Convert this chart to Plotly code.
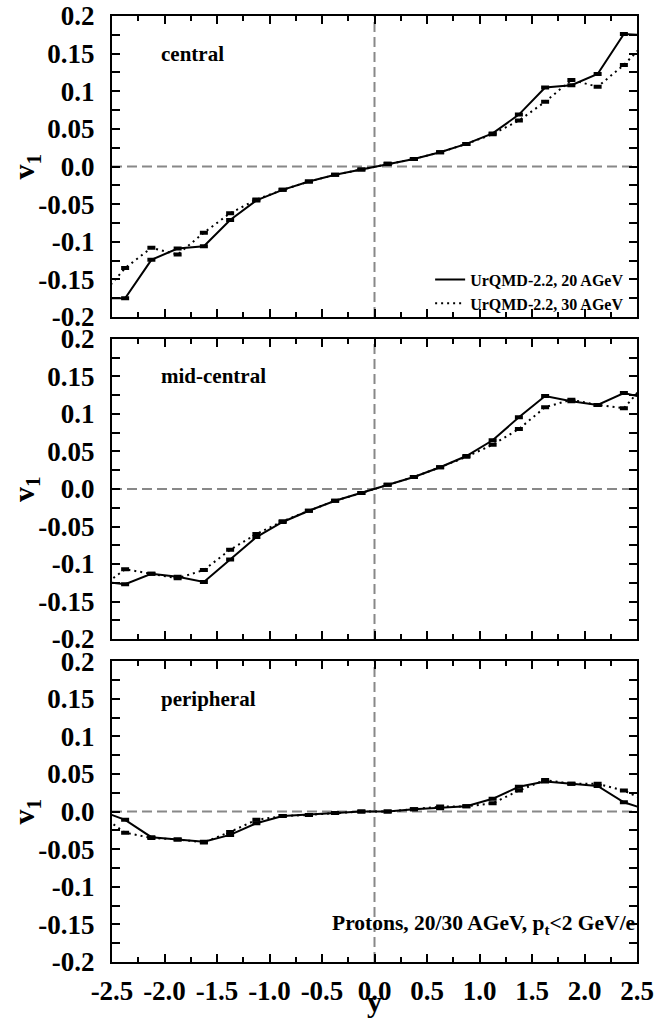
import plotly.graph_objects as go

# rapidity bin centres (outer points lie outside the shown range; lines are clipped)
rapidity = [-2.625, -2.375, -2.125, -1.875, -1.625, -1.375, -1.125, -0.875, -0.625, -0.375, -0.125,
            0.125, 0.375, 0.625, 0.875, 1.125, 1.375, 1.625, 1.875, 2.125, 2.375, 2.625]

central_20 = [-0.175, -0.175, -0.124, -0.109, -0.106, -0.071, -0.045, -0.031, -0.020, -0.011, -0.004,
              0.0035, 0.010, 0.019, 0.030, 0.044, 0.069, 0.105, 0.108, 0.123, 0.176, 0.174]
central_30 = [-0.175, -0.135, -0.108, -0.117, -0.088, -0.062, -0.044, -0.031, -0.020, -0.011, -0.004,
              0.0035, 0.010, 0.019, 0.030, 0.043, 0.061, 0.086, 0.115, 0.106, 0.135, 0.171]

midcentral_20 = [-0.123, -0.127, -0.113, -0.117, -0.124, -0.094, -0.064, -0.044, -0.029, -0.0156, -0.0053,
                 0.0058, 0.016, 0.029, 0.044, 0.065, 0.0956, 0.124, 0.117, 0.112, 0.128, 0.120]
midcentral_30 = [-0.133, -0.107, -0.113, -0.119, -0.108, -0.081, -0.060, -0.043, -0.029, -0.0156, -0.0053,
                 0.0058, 0.016, 0.029, 0.043, 0.059, 0.080, 0.109, 0.119, 0.112, 0.1076, 0.148]

peripheral_20 = [0.002, -0.011, -0.034, -0.037, -0.040, -0.031, -0.0155, -0.006, -0.0044, -0.002, 0.0,
                 0.0, 0.003, 0.0045, 0.007, 0.017, 0.033, 0.040, 0.037, 0.034, 0.0124, 0.001]
peripheral_30 = [-0.003, -0.028, -0.035, -0.037, -0.041, -0.027, -0.011, -0.006, -0.0044, -0.002, 0.0,
                 0.0, 0.003, 0.0066, 0.007, 0.011, 0.028, 0.042, 0.037, 0.037, 0.028, 0.012]

stat_err = [0.0, 0.001, 0.001, 0.001, 0.001, 0.001, 0.001, 0.001, 0.001, 0.001, 0.001,
            0.001, 0.001, 0.001, 0.001, 0.001, 0.001, 0.001, 0.001, 0.001, 0.001, 0.0]

panel_names = ["central", "mid-central", "peripheral"]
series_names = ["UrQMD-2.2, 20 AGeV", "UrQMD-2.2, 30 AGeV"]

y_tickvals = [0.2, 0.15, 0.1, 0.05, 0.0, -0.05, -0.1, -0.15, -0.2]
y_ticktext = ["0.2", "0.15", "0.1", "0.05", "0.0", "-0.05", "-0.1", "-0.15", "-0.2"]
x_tickvals = [-2.5, -2.0, -1.5, -1.0, -0.5, 0.0, 0.5, 1.0, 1.5, 2.0, 2.5]
x_ticktext = ["-2.5", "-2.0", "-1.5", "-1.0", "-0.5", "0.0", "0.5", "1.0", "1.5", "2.0", "2.5"]

FONT = "Liberation Serif"
panels = [(central_20, central_30), (midcentral_20, midcentral_30), (peripheral_20, peripheral_30)]
domains = [[0.6818, 1.0], [0.3414, 0.6586], [0.0, 0.318]]

fig = go.Figure()
for i, (s20, s30) in enumerate(panels):
    ax = "" if i == 0 else str(i + 1)
    for j, (vals, dash) in enumerate([(s20, "solid"), (s30, "2px,4px")]):
        fig.add_trace(go.Scatter(
            x=rapidity, y=vals, mode="lines", name=series_names[j],
            showlegend=(i == 0),
            line=dict(color="black", width=2, dash=dash),
            error_y=dict(type="data", array=stat_err, width=4, thickness=2.5, color="black"),
            xaxis="x" + ax, yaxis="y" + ax,
        ))

layout = dict(
    width=670, height=1023,
    margin=dict(l=112, r=33, t=16, b=61),
    paper_bgcolor="white", plot_bgcolor="white",
    font=dict(family=FONT, color="black", weight="bold"),
    legend=dict(x=0.985, xanchor="right", y=0.678, yanchor="bottom",
                font=dict(size=16, family=FONT, weight="bold"),
                bgcolor="rgba(0,0,0,0)", tracegroupgap=0, itemwidth=30),
    shapes=[], annotations=[],
)

for i in range(3):
    ax = "" if i == 0 else str(i + 1)
    xk = "xaxis" + ax
    yk = "yaxis" + ax
    layout[xk] = dict(
        domain=[0, 1], anchor="y" + ax, range=[-2.5, 2.5], automargin=False,
        tickmode="array", tickvals=x_tickvals, ticktext=x_ticktext,
        showticklabels=(i == 2), ticks="inside", ticklen=8, tickwidth=1.5, tickcolor="black",
        minor=dict(tickmode="linear", tick0=0, dtick=0.25, ticks="inside", ticklen=5, tickwidth=1.5,
                   tickcolor="black"),
        showline=True, linecolor="black", linewidth=2, mirror="allticks",
        showgrid=False, zeroline=False,
        tickfont=dict(size=27, family=FONT, weight="bold"),
        ticklabelstandoff=4,
    )
    layout[yk] = dict(
        domain=domains[i], anchor="x" + ax, range=[-0.2, 0.2], automargin=False,
        tickmode="array", tickvals=y_tickvals, ticktext=y_ticktext,
        ticks="inside", ticklen=8, tickwidth=1.5, tickcolor="black",
        minor=dict(tickmode="linear", tick0=0, dtick=0.025, ticks="inside", ticklen=8, tickwidth=1.5,
                   tickcolor="black"),
        showline=True, linecolor="black", linewidth=2, mirror="allticks",
        showgrid=False, zeroline=False,
        tickfont=dict(size=27, family=FONT, weight="bold"),
        ticklabelstandoff=10,
    )
    # y-axis title (v1) for this panel
    layout["annotations"].append(dict(text="v<sub>1</sub>", x=0, xref="paper", xanchor="center", xshift=-86,
                                      y=0, yref="y" + ax, yanchor="middle", textangle=-90, showarrow=False,
                                      font=dict(size=30, family=FONT, weight="bold")))
    # dashed reference lines at v1 = 0 and y = 0
    layout["shapes"].append(dict(type="line", xref="x" + ax + " domain", yref="y" + ax,
                                 x0=0, x1=1, y0=0, y1=0,
                                 line=dict(color="#888888", width=2, dash="10px,5px"), layer="below"))
    layout["shapes"].append(dict(type="line", xref="x" + ax, yref="y" + ax + " domain",
                                 x0=0, x1=0, y0=0, y1=1,
                                 line=dict(color="#888888", width=2, dash="10px,5px"), layer="below"))
    layout["annotations"].append(dict(text=panel_names[i], x=-2.05, y=0.15, xref="x" + ax, yref="y" + ax,
                                      xanchor="left", yanchor="middle", showarrow=False,
                                      font=dict(size=21, family=FONT, weight="bold")))

# x-axis title
layout["annotations"].append(dict(text="y", x=0, xref="x3", xanchor="center", y=0, yref="paper",
                                  yanchor="middle", yshift=-39, showarrow=False,
                                  font=dict(size=30, family=FONT, weight="bold")))

layout["annotations"].append(dict(text="Protons, 20/30 AGeV, p<sub>t</sub>&lt;2 GeV/e", x=2.5, y=-0.15,
                                  xref="x3", yref="y3", xanchor="right", yanchor="middle", showarrow=False,
                                  font=dict(size=21.5, family=FONT, weight="bold")))

fig.update_layout(**layout)
fig.write_html("out.html", config={"displayModeBar": False},
               post_script="document.body.style.margin='0px';")
